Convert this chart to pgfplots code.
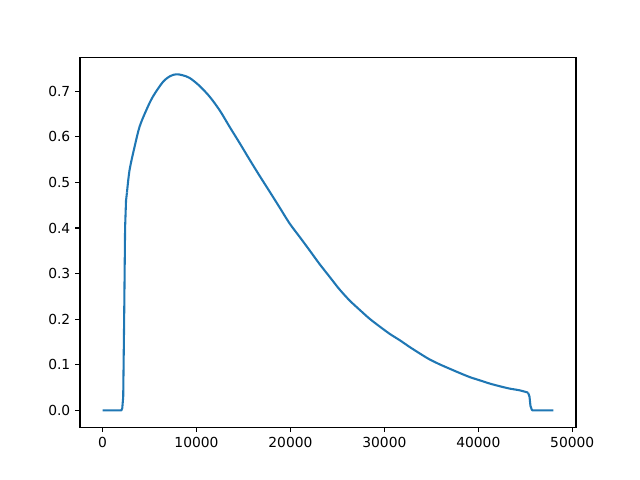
\documentclass[border=0pt]{standalone}
\usepackage{fontspec}
\setmainfont{DejaVu Sans}
\usepackage{pgfplots}
\pgfplotsset{compat=1.18}
\definecolor{mplBlue}{HTML}{1F77B4}
\tikzset{mplline/.style={mplBlue, line width=1.5pt, line join=round, no markers}}

\begin{document}
\begin{tikzpicture}
\path[use as bounding box] (-0.8in,-0.528in) rectangle (5.6in,4.272in);
\begin{axis}[
  at={(0,0)}, anchor=south west,
  scale only axis,
  width=4.96in, height=3.696in,
  xmin=-2400, xmax=50400,
  ymin=-0.0368, ymax=0.7736,
  xtick={0,10000,...,50000},
  ytick={0,0.1,...,0.7},
  scaled x ticks=false,
  xticklabel style={/pgf/number format/.cd, fixed, set thousands separator={}},
  yticklabel style={/pgf/number format/.cd, fixed, fixed zerofill, precision=1},
  /pgf/number format/assume math mode=true,
  tick align=outside,
  tick pos=left,
  major tick length=3.5pt,
  tick style={line width=0.8pt, black},
  axis line style={line width=0.8pt},
  ticklabel style={font=\fontsize{10}{12}\selectfont},
]
% rise from zero
\addplot[mplline] coordinates {
  (0,0) (2000,0) (2100,0.005) (2200,0.03) (2300,0.2) (2400,0.4)
  (2500,0.46) (2600,0.478)
};
% main body
\addplot[mplline, smooth, tension=0.5] coordinates {
  (2600,0.478) (2875,0.527) (3410,0.578) (3940,0.622)
  (4650,0.658) (5360,0.688) (6420,0.720) (7200,0.733) (7850,0.737)
  (8500,0.735) (9270,0.729) (10300,0.712) (11400,0.688) (12500,0.657)
  (13520,0.622) (14600,0.586) (15650,0.550) (16700,0.515) (17780,0.480)
  (18850,0.445) (19910,0.410) (21000,0.380) (22040,0.351) (23100,0.321)
  (24170,0.293) (25200,0.266) (26300,0.241) (27400,0.220) (28430,0.201)
  (29500,0.184) (30560,0.168) (31630,0.154) (32700,0.139) (33760,0.125)
  (34800,0.112) (35890,0.101) (37000,0.091) (38020,0.082) (39100,0.073)
  (40150,0.066) (41200,0.059) (42280,0.053) (43300,0.048) (44410,0.044)
  (45300,0.039)
};
% drop to zero
\addplot[mplline] coordinates {
  (45300,0.039) (45450,0.030) (45550,0.010) (45700,0.001) (45800,0) (48000,0)
};
\end{axis}
\end{tikzpicture}
\end{document}
